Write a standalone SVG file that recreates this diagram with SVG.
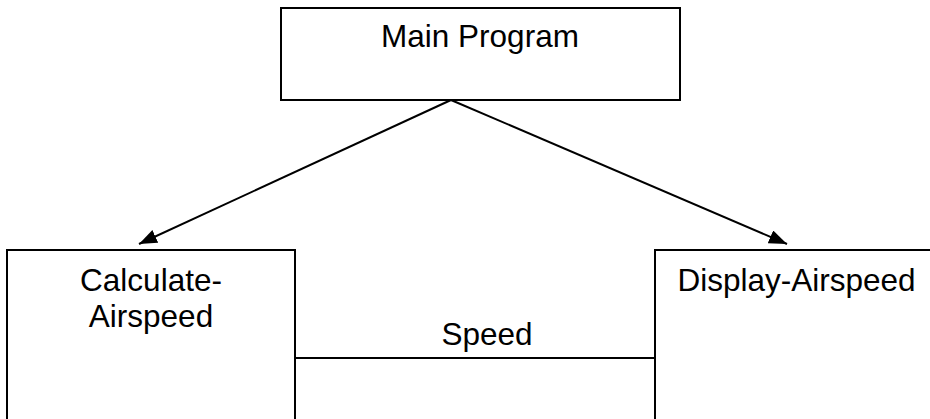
<svg xmlns="http://www.w3.org/2000/svg" width="930" height="419" viewBox="0 0 930 419">
<style>
.box{fill:#fff;stroke:#000;stroke-width:2}
.t{font-family:"Liberation Sans",Arial,sans-serif;font-size:31.5px;fill:#000;text-anchor:middle}
.c{stroke:#000;stroke-width:2;fill:none}
</style>
<defs>
<marker id="ah" markerUnits="userSpaceOnUse" markerWidth="20" markerHeight="16" refX="18" refY="7" orient="auto">
<path d="M0,0 L18,7 L0,14 z" fill="#000"/>
</marker>
</defs>
<rect width="930" height="419" fill="#fff"/>
<g id="main">
<rect class="box" x="281" y="8" width="399" height="92"/>
<text class="t" x="480" y="47">Main Program</text>
</g>
<g id="calc">
<rect class="box" x="7" y="250" width="288" height="200"/>
<text class="t" x="151" y="291">Calculate-</text>
<text class="t" x="151" y="327">Airspeed</text>
</g>
<g id="display">
<rect class="box" x="655" y="250" width="290" height="200"/>
<text class="t" x="796.5" y="291">Display-Airspeed</text>
</g>
<g id="connectors">
<line class="c" x1="451" y1="100" x2="139" y2="244" marker-end="url(#ah)"/>
<line class="c" x1="451" y1="100" x2="787" y2="244" marker-end="url(#ah)"/>
<line class="c" x1="295" y1="358" x2="655" y2="358"/>
<text class="t" x="487" y="345">Speed</text>
</g>
</svg>
